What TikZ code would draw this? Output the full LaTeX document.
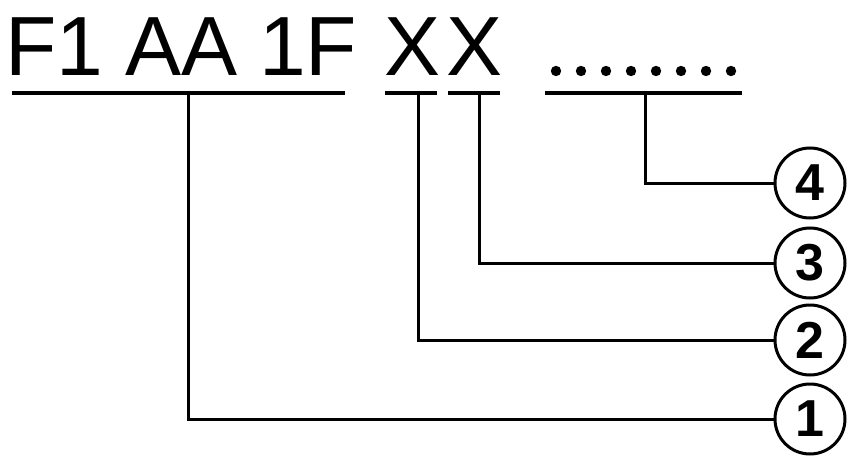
\documentclass[tikz,border=0pt]{standalone}
\usepackage{fontspec}
\setmainfont{Liberation Sans}
\begin{document}
\begin{tikzpicture}[x=1pt,y=-1pt,
  code/.style={anchor=base west,inner sep=0pt,font=\fontsize{84}{84}\selectfont},
  num/.style={circle,draw,line width=3pt,minimum size=70pt,inner sep=0pt,font=\fontsize{52}{52}\selectfont\bfseries},
  ln/.style={line width=3pt}]
\useasboundingbox (0,0) rectangle (857,460);
% code text
\node[code] (t1) at (5,75) {F1};
\node[code] (t2) at (125,75) {AA};
\node[code] (t3) at (259,75) {1F};
\node[code] (t4) at (384,75) {X};
\node[code] (t5) at (446,75) {X};
% dots
\foreach \i in {0,...,7}{
  \fill (556+\i*25,71) circle (5.2pt);
}
% underlines
\draw[ln] (12,93) -- (345,93);
\draw[ln] (385,93) -- (437,93);
\draw[ln] (448,93) -- (500,93);
\draw[ln] (545,93) -- (742,93);
\coordinate (u1) at (188,93);
\coordinate (u2) at (418,93);
\coordinate (u3) at (479,93);
\coordinate (u4) at (645,93);
% circled numbers
\node[num] (c4) at (810,183) {4};
\node[num] (c3) at (810,263) {3};
\node[num] (c2) at (810,340) {2};
\node[num] (c1) at (810,419) {1};
% connectors
\draw[ln] (u1) |- (c1);
\draw[ln] (u2) |- (c2);
\draw[ln] (u3) |- (c3);
\draw[ln] (u4) |- (c4);
\end{tikzpicture}
\end{document}
